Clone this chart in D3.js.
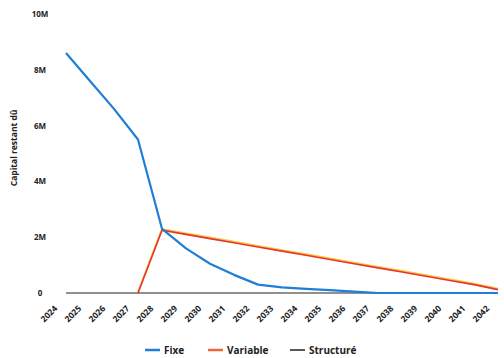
<!DOCTYPE html>
<html>
<head>
<meta charset="utf-8">
<script src="https://cdn.jsdelivr.net/npm/d3@7"></script>
<style>
  body { margin: 0; background: #fff; }
  text { font-family: "Open Sans", "DejaVu Sans", sans-serif; }
</style>
</head>
<body>
<svg id="chart" width="504" height="358"></svg>
<script>
const years = [2024, 2025, 2026, 2027, 2028, 2029, 2030, 2031, 2032, 2033, 2034, 2035, 2036, 2037, 2038, 2039, 2040, 2041, 2042];
const fixe = [8.6, 7.6, 6.6, 5.5, 2.3, 1.6, 1.05, 0.65, 0.3, 0.2, 0.15, 0.1, 0.05, 0, 0, 0, 0, 0, 0];
const variable = [null, null, null, 0, 2.25, 2.1, 1.95, 1.8, 1.65, 1.5, 1.35, 1.2, 1.05, 0.9, 0.75, 0.6, 0.45, 0.3, 0.12];
const structure = [0, 0, 0, 0, 0, 0, 0, 0, 0, 0, 0, 0, 0, 0, 0, 0, 0, 0, 0];
const yTicks = [0, 2, 4, 6, 8, 10];
const yTickLabels = ['0', '2M', '4M', '6M', '8M', '10M'];
const legendNames = ['Fixe', 'Variable', 'Structuré'];
const colors = ['#1f7fd6', '#e8352b', '#222222'];

const svg = d3.select('#chart');
const x = d3.scalePoint().domain(years).range([66, 498]);
const y = d3.scaleLinear().domain([0, 10]).range([293, 14]);

// y axis labels
svg.append('g').selectAll('text').data(yTicks).join('text')
  .attr('x', 40).attr('y', d => y(d) + 3)
  .attr('text-anchor', 'middle')
  .attr('font-size', 8).attr('font-weight', 'bold').attr('fill', '#222')
  .text((d, i) => yTickLabels[i]);

svg.append('text')
  .attr('transform', `translate(17, ${y(5.2)}) rotate(-90)`)
  .attr('text-anchor', 'middle')
  .attr('font-size', 8.5).attr('font-weight', 'bold').attr('fill', '#222')
  .text('Capital restant dû');

// x axis labels
svg.append('g').selectAll('text').data(years).join('text')
  .attr('transform', d => `translate(${x(d) - 8}, ${309}) rotate(-45)`)
  .attr('text-anchor', 'end')
  .attr('font-size', 8.5).attr('font-weight', 'bold').attr('fill', '#222')
  .text(d => d);

const lineFor = arr => d3.line()
  .x(d => x(d.year)).y(d => y(d.v))(arr.map((v, i) => ({year: years[i], v})).filter(d => d.v != null));

svg.append('path').attr('d', lineFor(structure))
  .attr('fill', 'none').attr('stroke', colors[2]).attr('stroke-width', 1.2);

// yellow edge on the variable line
svg.append('path').attr('d', lineFor(variable))
  .attr('transform', 'translate(0,-1)')
  .attr('fill', 'none').attr('stroke', '#f5c842').attr('stroke-width', 2);
svg.append('path').attr('d', lineFor(variable))
  .attr('fill', 'none').attr('stroke', colors[1]).attr('stroke-width', 1.6);

svg.append('path').attr('d', lineFor(fixe))
  .attr('fill', 'none').attr('stroke', colors[0]).attr('stroke-width', 2.2)
  .attr('stroke-linejoin', 'round');

// legend
const legX = [145, 208, 290];
const leg = svg.append('g').selectAll('g').data(legendNames).join('g')
  .attr('transform', (d, i) => `translate(${legX[i]}, 350)`);
leg.append('line').attr('x1', 0).attr('x2', 15).attr('y1', 0).attr('y2', 0)
  .attr('stroke', (d, i) => i === 1 ? '#f0663a' : colors[i]).attr('stroke-width', (d, i) => i === 2 ? 1.5 : 2.5);
leg.append('text').attr('x', 19).attr('y', 3.5)
  .attr('font-size', 10).attr('font-weight', 'bold').attr('fill', '#222')
  .text(d => d);
</script>
</body>
</html>
